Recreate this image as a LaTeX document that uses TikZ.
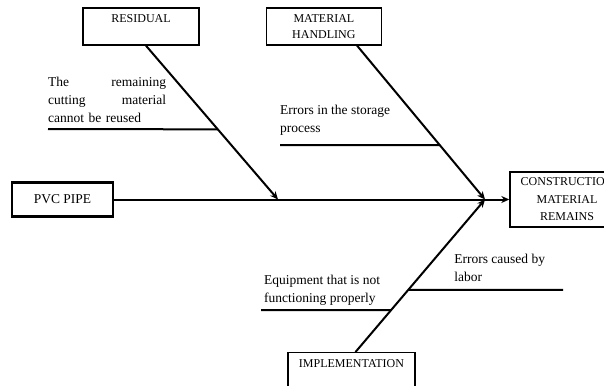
\documentclass[tikz,border=0pt]{standalone}
\usepackage{fontspec}
\setmainfont{Liberation Serif}
\usetikzlibrary{positioning, arrows.meta, calc}
\tikzset{
  >={Stealth[length=8pt, width=7pt]},
  bone/.style={line width=2pt},
  cat/.style={draw, line width=1.4pt, minimum width=116pt, minimum height=37pt,
    inner sep=3pt, align=center, font=\fontsize{12}{16}\selectfont},
  cause/.style={inner sep=0pt, align=left, font=\fontsize{13.5}{18}\selectfont},
}

\begin{document}
\begin{tikzpicture}[x=1pt, y=-1pt]
	\clip (0,0) rectangle (604,385);
	% boxes
	\node[cat] (residual) at (141,26.5) {RESIDUAL\\\mbox{}};
	\node[cat, right=66pt of residual, minimum width=115pt] (handling) {MATERIAL\\HANDLING};
	\node[cat, anchor=north, minimum width=127pt] (impl) at (351.5,352) {IMPLEMENTATION\\\mbox{}};
	\node[cat, minimum width=114pt, minimum height=55pt,
	  font=\fontsize{12}{17.5}\selectfont] (cmr) at (567,199.5) {CONSTRUCTION\\MATERIAL\\REMAINS};
	\node[cat, line width=2.4pt, minimum width=101pt, minimum height=34pt,
	  font=\fontsize{13.5}{18}\selectfont] (pvc) at (62.5,199.5) {PVC PIPE};

	% spine and bones
	\coordinate (head) at (485,199.5);
	\coordinate (rtip) at (278,199.5);
	\draw[bone, ->] (pvc) -- (cmr);
	\draw[bone, ->] ([xshift=5pt]residual.south) -- (rtip);
	\draw[bone, ->] ([xshift=-25pt]handling.south east) -- (head);
	\draw[bone, ->] ([xshift=4pt]impl.north) -- (head);

	% branches
	\coordinate (r0) at (48,129);
	\coordinate (r1) at ($([xshift=5pt]residual.south)!0.544!(rtip)$);
	\coordinate (h0) at (280,145);
	\coordinate (h1) at ($([xshift=-25pt]handling.south east)!0.647!(head)$);
	\coordinate (l0) at ($([xshift=4pt]impl.north)!0.4066!(head)$);
	\coordinate[right=155pt of l0] (l1);
	\coordinate (e0) at (261,310);
	\coordinate (e1) at ($([xshift=4pt]impl.north)!0.275!(head)$);
	\draw[bone] (r0) -- (r1)
	  (h0) -- (h1)
	  (l0) -- (l1)
	  (e0) -- (e1);

	% causes
	\node[cause, above right=6pt and 0pt of r0, text width=118pt] (rtxt)
	  {The\hfill remaining\\cutting\hfill material\\cannot be reused};
	\node[cause, above right=9pt and 0pt of h0] (htxt) {Errors in the storage\\process};
	\node[cause, above right=8pt and 46pt of l0] (ltxt) {Errors caused by\\labor};
	\node[cause, above right=4pt and 3pt of e0] (etxt) {Equipment that is not\\functioning properly};
\end{tikzpicture}
\end{document}
